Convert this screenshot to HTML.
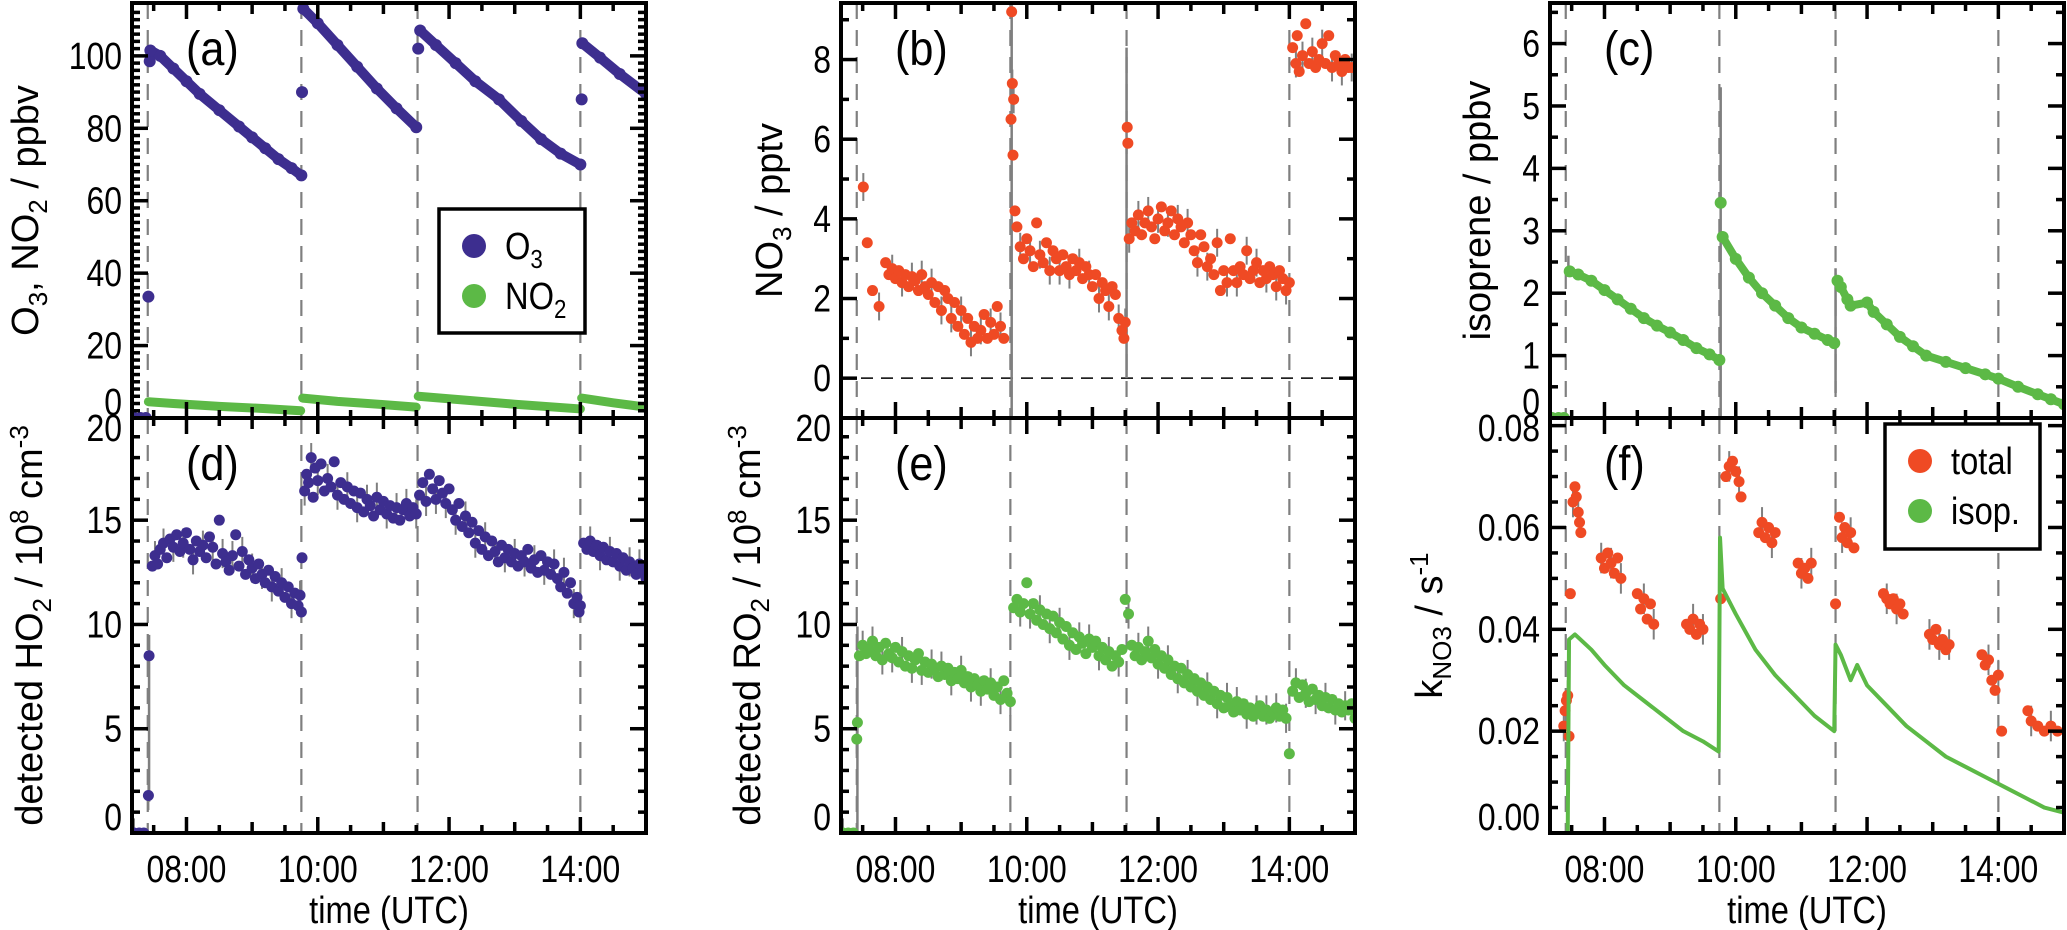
<!DOCTYPE html>
<html><head><meta charset="utf-8"><style>
html,body{margin:0;padding:0;background:#fff;}
svg{display:block;font-family:"Liberation Sans",sans-serif;}
</style></head><body>
<svg id="fig" width="2067" height="930" viewBox="0 0 2067 930" xmlns="http://www.w3.org/2000/svg"></svg>
<script>
const xTickLabels=["08:00","10:00","12:00","14:00"];
const xTickHours=[8,10,12,14];
const dashTimes=[7.41,9.75,11.52,14.0];
const o3Data=[[7.2,0],[7.3,0],[7.38,0],[7.42,33.5],[7.44,98.5],[7.45,101.5],[7.6,100],[7.8,96.5],[8.0,93],[8.2,89.5],[8.5,85],[8.8,80.5],[9.0,77.5],[9.2,74.5],[9.4,71.5],[9.6,69],[9.75,67],[9.76,90],[9.78,113],[10.0,109],[10.3,103],[10.6,97],[10.9,91],[11.2,85.5],[11.5,80.3],[11.53,102],[11.56,107],[11.8,103],[12.1,98],[12.4,93],[12.76,88],[13.1,82],[13.4,77],[13.7,73],[14.0,70],[14.02,88],[14.03,103.5],[14.3,99.5],[14.6,95],[15.0,89.5]];
const no2Data=[[7.2,0],[7.4,0],[7.42,4.5],[7.8,4],[8.5,3.2],[9.2,2.6],[9.74,2],[9.77,5.5],[10.3,4.6],[11.0,3.7],[11.5,3],[11.53,6],[12.2,5],[13.0,3.8],[14.0,2.5],[14.02,5.5],[14.5,4.2],[15.0,3]];
const no3Data=[[7.51,4.8],[7.57,3.4],[7.65,2.2],[7.75,1.8],[7.85,2.9],[7.9,2.6],[7.95,2.75],[8.0,2.5],[8.05,2.7],[8.1,2.4],[8.15,2.6],[8.2,2.3],[8.25,2.55],[8.3,2.45],[8.35,2.2],[8.4,2.6],[8.45,2.3],[8.5,2.1],[8.55,2.4],[8.6,1.9],[8.65,2.3],[8.7,1.7],[8.75,2.2],[8.8,2.0],[8.85,1.5],[8.9,1.9],[8.95,1.3],[9.0,1.7],[9.05,1.1],[9.1,1.5],[9.15,0.9],[9.2,1.3],[9.25,1.0],[9.3,1.2],[9.35,1.6],[9.4,1.0],[9.45,1.4],[9.5,1.1],[9.55,1.8],[9.6,1.3],[9.65,1.0],[9.77,9.2],[9.78,7.4],[9.76,6.5],[9.79,5.6],[9.8,7.0],[9.82,4.2],[9.85,3.8],[9.9,3.3],[9.95,3.0],[10.0,3.5],[10.05,3.2],[10.1,2.8],[10.15,3.9],[10.2,3.1],[10.25,2.9],[10.3,3.4],[10.35,2.7],[10.4,3.2],[10.45,3.0],[10.5,2.7],[10.55,3.1],[10.6,2.8],[10.65,2.6],[10.7,3.0],[10.75,2.7],[10.8,2.9],[10.85,2.5],[10.9,2.8],[10.95,2.6],[11.0,2.3],[11.05,2.6],[11.1,2.0],[11.15,2.4],[11.2,2.2],[11.25,1.8],[11.3,2.3],[11.35,2.1],[11.4,1.5],[11.45,1.2],[11.48,1.0],[11.5,1.4],[11.53,6.3],[11.54,5.9],[11.56,3.5],[11.6,3.9],[11.65,3.7],[11.7,4.1],[11.75,3.6],[11.8,3.9],[11.85,4.2],[11.9,3.8],[11.95,3.5],[12.0,4.0],[12.05,4.3],[12.1,3.7],[12.15,3.9],[12.2,4.2],[12.25,3.6],[12.3,4.0],[12.35,3.8],[12.4,3.4],[12.45,3.9],[12.5,3.6],[12.55,3.2],[12.6,2.9],[12.65,3.6],[12.7,3.3],[12.75,2.8],[12.8,3.0],[12.85,2.6],[12.9,3.4],[12.95,2.2],[13.0,2.7],[13.05,2.4],[13.1,3.5],[13.15,2.7],[13.2,2.4],[13.25,2.8],[13.3,2.6],[13.35,3.2],[13.4,2.5],[13.45,2.7],[13.5,2.9],[13.55,2.4],[13.6,2.7],[13.65,2.5],[13.7,2.8],[13.75,2.6],[13.8,2.3],[13.85,2.7],[13.9,2.5],[13.95,2.2],[14.0,2.4],[14.05,8.3],[14.1,7.9],[14.12,8.6],[14.15,7.7],[14.2,8.1],[14.25,8.9],[14.3,7.9],[14.35,8.2],[14.4,7.8],[14.45,8.0],[14.5,8.4],[14.55,7.9],[14.6,8.6],[14.65,7.8],[14.7,8.1],[14.75,7.9],[14.8,7.7],[14.85,8.0],[14.9,7.8],[14.95,7.8]];
const no3Spikes=[[9.77,-1,9.4],[11.52,0,8.3]];
const isoData=[[7.2,0],[7.3,0],[7.38,0],[7.47,2.35],[7.6,2.3],[7.8,2.2],[8.0,2.05],[8.2,1.9],[8.4,1.75],[8.6,1.6],[8.8,1.48],[9.0,1.37],[9.2,1.25],[9.4,1.12],[9.6,1.02],[9.75,0.93],[9.77,3.45],[9.8,2.9],[10.0,2.55],[10.2,2.25],[10.4,2.0],[10.6,1.8],[10.8,1.6],[11.0,1.45],[11.2,1.35],[11.4,1.25],[11.5,1.2],[11.55,2.2],[11.6,2.1],[11.7,1.9],[11.75,1.8],[12.0,1.85],[12.1,1.7],[12.3,1.5],[12.5,1.3],[12.7,1.15],[12.9,1.0],[13.2,0.9],[13.5,0.8],[13.8,0.7],[14.0,0.63],[14.3,0.5],[14.6,0.38],[14.8,0.3],[15.0,0.22]];
const isoSpikes=[[7.45,2.3,2.6],[9.77,0,5.3],[11.52,0.4,2.4]];
const ho2Data=[[7.2,0],[7.28,0],[7.35,0],[7.42,1.8],[7.43,8.5],[7.48,12.8],[7.52,13.3],[7.56,12.9],[7.6,13.6],[7.65,13.9],[7.7,13.2],[7.75,14.1],[7.8,13.7],[7.85,14.3],[7.9,13.5],[7.95,13.9],[8.0,14.4],[8.05,13.6],[8.1,13.1],[8.15,14.0],[8.2,13.5],[8.25,13.8],[8.3,13.2],[8.35,14.2],[8.4,13.7],[8.45,12.9],[8.5,15.0],[8.55,13.4],[8.6,13.0],[8.65,12.6],[8.7,13.3],[8.75,14.3],[8.8,12.8],[8.85,13.5],[8.9,12.4],[8.95,13.1],[9.0,12.7],[9.05,12.2],[9.1,12.9],[9.15,12.4],[9.2,12.0],[9.25,12.6],[9.3,11.8],[9.35,12.3],[9.4,11.6],[9.45,12.0],[9.5,11.3],[9.55,11.8],[9.6,11.0],[9.65,11.5],[9.7,10.9],[9.73,11.4],[9.75,10.6],[9.76,13.2],[9.8,16.4],[9.83,17.2],[9.86,16.8],[9.9,18.0],[9.93,16.1],[9.96,17.5],[10.0,16.9],[10.05,17.7],[10.1,16.4],[10.15,17.0],[10.2,16.6],[10.25,17.8],[10.3,16.2],[10.35,16.8],[10.4,16.0],[10.45,16.6],[10.5,15.8],[10.55,16.4],[10.6,15.6],[10.65,16.3],[10.7,15.4],[10.75,16.0],[10.8,15.7],[10.85,15.2],[10.9,16.1],[10.95,15.5],[11.0,15.9],[11.05,15.3],[11.1,15.7],[11.15,15.1],[11.2,15.6],[11.25,15.0],[11.3,15.5],[11.35,15.8],[11.4,15.2],[11.45,15.6],[11.5,15.3],[11.55,16.2],[11.6,16.8],[11.65,15.9],[11.7,17.2],[11.75,16.5],[11.8,16.0],[11.85,16.9],[11.9,16.3],[11.95,15.8],[12.0,16.5],[12.05,15.5],[12.1,15.0],[12.15,15.8],[12.2,14.7],[12.25,15.2],[12.3,14.4],[12.35,14.9],[12.4,13.9],[12.45,14.5],[12.5,13.6],[12.55,14.2],[12.6,13.3],[12.65,14.0],[12.7,13.5],[12.75,13.0],[12.8,13.8],[12.85,13.2],[12.9,13.6],[12.95,13.0],[13.0,13.4],[13.05,12.8],[13.1,13.3],[13.15,13.0],[13.2,13.6],[13.25,12.7],[13.3,13.1],[13.35,12.5],[13.4,13.3],[13.45,12.6],[13.5,13.0],[13.55,12.4],[13.6,12.9],[13.65,12.2],[13.7,11.8],[13.75,12.5],[13.8,11.5],[13.85,12.0],[13.9,11.0],[13.95,11.3],[13.98,10.6],[14.0,10.9],[14.05,13.9],[14.1,13.6],[14.15,14.0],[14.2,13.5],[14.25,13.8],[14.3,13.3],[14.35,13.7],[14.4,13.1],[14.45,13.5],[14.5,13.0],[14.55,13.4],[14.6,12.8],[14.65,13.2],[14.7,12.6],[14.75,13.0],[14.8,12.7],[14.85,12.4],[14.9,12.9],[14.95,12.5],[15.0,12.2]];
const ro2Data=[[7.2,0],[7.28,0],[7.36,0],[7.41,4.5],[7.42,5.3],[7.45,8.5],[7.5,9.0],[7.55,8.6],[7.6,8.8],[7.65,9.2],[7.7,8.5],[7.75,8.9],[7.8,8.3],[7.85,9.1],[7.9,8.6],[7.95,8.4],[8.0,8.9],[8.05,8.2],[8.1,8.7],[8.15,8.0],[8.2,8.5],[8.25,7.9],[8.3,8.3],[8.35,8.6],[8.4,7.8],[8.45,8.2],[8.5,7.7],[8.55,8.1],[8.6,7.9],[8.65,7.5],[8.7,8.0],[8.75,7.6],[8.8,7.9],[8.85,7.3],[8.9,7.7],[8.95,7.4],[9.0,7.8],[9.05,7.2],[9.1,7.5],[9.15,7.0],[9.2,7.4],[9.25,7.1],[9.3,6.8],[9.35,7.3],[9.4,6.9],[9.45,7.2],[9.5,6.6],[9.55,7.0],[9.6,6.4],[9.65,7.3],[9.7,6.7],[9.75,6.3],[9.8,10.8],[9.85,11.2],[9.9,10.6],[9.95,11.0],[10.0,12.0],[10.05,10.5],[10.1,11.0],[10.15,10.2],[10.2,10.7],[10.25,10.0],[10.3,10.5],[10.35,9.8],[10.4,10.4],[10.45,9.6],[10.5,10.1],[10.55,9.3],[10.6,9.9],[10.65,9.0],[10.7,9.6],[10.75,8.8],[10.8,9.4],[10.85,9.1],[10.9,8.6],[10.95,9.3],[11.0,8.9],[11.05,9.2],[11.1,8.5],[11.15,8.9],[11.2,8.3],[11.25,8.7],[11.3,8.0],[11.35,8.5],[11.4,8.2],[11.45,8.8],[11.5,11.2],[11.55,10.5],[11.6,9.0],[11.65,8.5],[11.7,8.9],[11.75,8.3],[11.8,8.7],[11.85,9.2],[11.9,8.4],[11.95,8.8],[12.0,8.1],[12.05,8.5],[12.1,7.9],[12.15,8.3],[12.2,7.6],[12.25,8.0],[12.3,7.4],[12.35,7.9],[12.4,7.2],[12.45,7.6],[12.5,7.0],[12.55,7.4],[12.6,6.8],[12.65,7.2],[12.7,6.6],[12.75,7.0],[12.8,6.4],[12.85,6.8],[12.9,6.2],[12.95,6.6],[13.0,6.0],[13.05,6.5],[13.1,6.1],[13.15,5.8],[13.2,6.3],[13.25,5.9],[13.3,6.2],[13.35,5.7],[13.4,6.0],[13.45,5.6],[13.5,5.9],[13.55,6.1],[13.6,5.6],[13.65,5.9],[13.7,5.5],[13.75,5.8],[13.8,6.0],[13.85,5.6],[13.9,5.9],[13.95,5.5],[14.0,3.8],[14.05,6.8],[14.1,7.2],[14.15,6.5],[14.2,7.1],[14.25,6.7],[14.3,6.3],[14.35,6.9],[14.4,6.4],[14.45,6.6],[14.5,6.1],[14.55,6.5],[14.6,6.0],[14.65,6.4],[14.7,5.9],[14.75,6.2],[14.8,5.8],[14.85,6.1],[14.9,5.9],[14.95,6.2],[15.0,5.5]];
const kTotalData=[[7.38,0.021],[7.4,0.024],[7.42,0.026],[7.44,0.027],[7.46,0.019],[7.48,0.047],[7.52,0.065],[7.55,0.068],[7.57,0.066],[7.6,0.063],[7.62,0.061],[7.64,0.059],[7.95,0.054],[8.0,0.052],[8.05,0.055],[8.1,0.053],[8.15,0.051],[8.2,0.054],[8.25,0.050],[8.5,0.047],[8.55,0.044],[8.6,0.046],[8.65,0.042],[8.7,0.045],[8.75,0.041],[9.25,0.041],[9.3,0.040],[9.35,0.042],[9.4,0.039],[9.45,0.041],[9.5,0.040],[9.77,0.046],[9.85,0.070],[9.9,0.072],[9.95,0.073],[10.0,0.071],[10.05,0.069],[10.08,0.066],[10.35,0.059],[10.4,0.061],[10.45,0.058],[10.5,0.060],[10.55,0.057],[10.6,0.059],[10.95,0.053],[11.0,0.051],[11.05,0.052],[11.1,0.050],[11.15,0.053],[11.52,0.045],[11.58,0.062],[11.62,0.058],[11.66,0.060],[11.7,0.057],[11.75,0.059],[11.8,0.056],[12.25,0.047],[12.3,0.046],[12.35,0.045],[12.4,0.046],[12.45,0.044],[12.5,0.045],[12.55,0.043],[12.95,0.039],[13.0,0.038],[13.05,0.040],[13.1,0.037],[13.15,0.038],[13.2,0.036],[13.25,0.037],[13.75,0.035],[13.8,0.033],[13.85,0.034],[13.9,0.030],[13.95,0.028],[14.0,0.031],[14.05,0.020],[14.45,0.024],[14.5,0.022],[14.6,0.021],[14.7,0.020],[14.8,0.021],[14.9,0.020]];
const kIsopData=[[7.2,0],[7.44,0],[7.46,0.038],[7.55,0.039],[7.8,0.036],[8.0,0.033],[8.3,0.029],[8.6,0.026],[8.9,0.023],[9.2,0.020],[9.5,0.018],[9.74,0.016],[9.76,0.058],[9.8,0.048],[10.0,0.043],[10.3,0.036],[10.6,0.031],[10.9,0.027],[11.2,0.023],[11.5,0.020],[11.52,0.037],[11.6,0.035],[11.75,0.030],[11.85,0.033],[12.0,0.029],[12.3,0.025],[12.6,0.021],[12.9,0.018],[13.2,0.015],[13.5,0.013],[13.8,0.011],[14.1,0.009],[14.4,0.007],[14.7,0.005],[15.0,0.004]];

const NS="http://www.w3.org/2000/svg";
const svg=document.getElementById('fig');
const BLUE="#3d2e8f",GREEN="#5cb946",RED="#ef4a24",GRAY="#7f7f7f";
const XMIN=7.17,XMAX=15.0;
function el(tag,parent){const e=document.createElementNS(NS,tag);parent.appendChild(e);return e;}

function panel(cfg){
  const g=el('g',svg);
  
  
  const {L,T,W,H,ymin,ymax}=cfg;
  cfg.sx=h=>L+(h-XMIN)/(XMAX-XMIN)*W;
  cfg.sy=v=>T+H-(v-ymin)/(ymax-ymin)*H;
  const clip=el('clipPath',g);clip.id='clip-'+cfg.name;
  const cr=el('rect',clip);cr.setAttribute('x',L);cr.setAttribute('y',T);cr.setAttribute('width',W);cr.setAttribute('height',H);
  const plot=el('g',g);plot.setAttribute('clip-path','url(#clip-'+cfg.name+')');
  
  
  cfg.plot=plot;cfg.g=g;
  dashTimes.forEach(t=>{
    const ln=el('line',plot);
    
    
    ln.setAttribute('x1',cfg.sx(t));ln.setAttribute('x2',cfg.sx(t));ln.setAttribute('y1',T);ln.setAttribute('y2',T+H);
    ln.setAttribute('stroke',GRAY);ln.setAttribute('stroke-width',2.2);ln.setAttribute('stroke-dasharray','16,11');
  });
  return cfg;
}
function finish(cfg){
  const {L,T,W,H,g}=cfg;
  const tk=el('g',g);
  
  
  const tick=(x1,y1,x2,y2)=>{const l=el('line',tk);l.setAttribute('x1',x1);l.setAttribute('y1',y1);l.setAttribute('x2',x2);l.setAttribute('y2',y2);l.setAttribute('stroke','#000');l.setAttribute('stroke-width',3.5);};
  for(let h=7.5;h<=XMAX+1e-6;h+=0.5){const x=cfg.sx(h);if(x<L+3||x>L+W-3)continue;const len=(Math.abs(h-Math.round(h))<1e-6)?(Math.round(h)%2===0?16:11):8;tick(x,T+H,x,T+H-len);tick(x,T,x,T+len);}
  for(let v=cfg.ymin;v<=cfg.ymax+1e-9;v+=cfg.minor){const k=Math.round(v/cfg.minor);const vv=k*cfg.minor;const y=cfg.sy(vv);if(y<T+3||y>T+H-3)continue;const maj=Math.abs(vv/cfg.major-Math.round(vv/cfg.major))<1e-6;const len=maj?16:8;tick(L,y,L+len,y);tick(L+W,y,L+W-len,y);}
  const fr=el('rect',g);
  
  
  fr.setAttribute('x',L);fr.setAttribute('y',T);fr.setAttribute('width',W);fr.setAttribute('height',H);fr.setAttribute('fill','none');fr.setAttribute('stroke','#000');fr.setAttribute('stroke-width',4);
  cfg.yLabels.forEach(v=>{
    let y=cfg.sy(v);y=Math.max(T+10,Math.min(T+H-16,y));
    const t=el('text',g);
    
    
    t.setAttribute('transform','translate('+(L-10)+','+(y+13)+') scale(0.84,1)');
    t.setAttribute('text-anchor','end');t.setAttribute('font-size',38);t.textContent=cfg.fmt(v);
  });
  if(cfg.bottom){
    xTickHours.forEach((h,i)=>{
      const t=el('text',g);
      
      
      t.setAttribute('transform','translate('+cfg.sx(h)+',882) scale(0.84,1)');
      t.setAttribute('text-anchor','middle');t.setAttribute('font-size',38);t.textContent=xTickLabels[i];
    });
    const xt=el('text',g);
    
    
    xt.setAttribute('transform','translate('+(L+W/2)+',923) scale(0.86,1)');
    xt.setAttribute('text-anchor','middle');xt.setAttribute('font-size',38);xt.textContent='time (UTC)';
  }
  const pl=el('text',g);
  
  
  pl.setAttribute('transform','translate('+(L+54)+','+(T+62)+') scale(0.9,1)');
  pl.setAttribute('font-size',48);pl.textContent=cfg.label;
  const yt=el('text',g);
  
  
  yt.setAttribute('transform','translate('+cfg.titleX+','+(T+H/2)+') rotate(-90)');
  yt.setAttribute('text-anchor','middle');yt.setAttribute('font-size',38);
  yt.innerHTML=cfg.title;
}
function scatter(cfg,data,color,r,name){
  const g=el('g',cfg.plot);
  
  
  data.forEach(d=>{const c=el('circle',g);c.setAttribute('cx',cfg.sx(d[0]));c.setAttribute('cy',cfg.sy(d[1]));c.setAttribute('r',r);c.setAttribute('fill',color);});
}
function errbars(cfg,data,err,name){
  const g=el('g',cfg.plot);
  
  
  data.forEach((d,i)=>{if(i%3)return;const l=el('line',g);const x=cfg.sx(d[0]);l.setAttribute('x1',x);l.setAttribute('x2',x);l.setAttribute('y1',cfg.sy(d[1]-err));l.setAttribute('y2',cfg.sy(d[1]+err));l.setAttribute('stroke',GRAY);l.setAttribute('stroke-width',2);});
}
function spikes(cfg,data,name){
  data.forEach(d=>{const l=el('line',cfg.plot);
    
    
    const x=cfg.sx(d[0]);l.setAttribute('x1',x);l.setAttribute('x2',x);l.setAttribute('y1',cfg.sy(d[1]));l.setAttribute('y2',cfg.sy(d[2]));l.setAttribute('stroke',GRAY);l.setAttribute('stroke-width',2.5);});
}
function line(cfg,data,color,w,name){
  const p=el('polyline',cfg.plot);
  
  
  p.setAttribute('points',data.map(d=>cfg.sx(d[0])+','+cfg.sy(d[1])).join(' '));p.setAttribute('fill','none');p.setAttribute('stroke',color);p.setAttribute('stroke-width',w);p.setAttribute('stroke-linejoin','round');p.setAttribute('stroke-linecap','round');
}
function segLine(cfg,data,color,w,name){
  let seg=[];const out=[];
  data.forEach((d,i)=>{
    if(i>0){const pv=data[i-1];
      if(d[1]>pv[1]&&dashTimes.some(t=>pv[0]<=t+0.01&&d[0]>=t-0.01)){out.push(seg);seg=[];}}
    seg.push(d);});
  out.push(seg);
  out.forEach(s=>{if(s.length<2)return;const p=el('polyline',cfg.plot);
    
    
    p.setAttribute('points',s.map(d=>cfg.sx(d[0])+','+cfg.sy(d[1])).join(' '));p.setAttribute('fill','none');p.setAttribute('stroke',color);p.setAttribute('stroke-width',w);p.setAttribute('stroke-linejoin','round');p.setAttribute('stroke-linecap','round');});
}
function legend(x,y,w,h,items,name){
  const g=el('g',svg);
  
  
  const r=el('rect',g);r.setAttribute('x',x);r.setAttribute('y',y);r.setAttribute('width',w);r.setAttribute('height',h);r.setAttribute('fill','#fff');r.setAttribute('stroke','#000');r.setAttribute('stroke-width',3.5);
  items.forEach((it,i)=>{
    const e=el('g',g);
    
    
    const cy=y+37+i*50;
    const c=el('circle',e);c.setAttribute('cx',x+35);c.setAttribute('cy',cy);c.setAttribute('r',12);c.setAttribute('fill',it[1]);
    const t=el('text',e);t.setAttribute('transform','translate('+(x+66)+','+(cy+13)+') scale(0.86,1)');t.setAttribute('font-size',38);t.innerHTML=it[0];
  });
}
const SUB='<tspan font-size="26" dy="9">', SUBE='</tspan><tspan dy="-9">', SUP='<tspan font-size="26" dy="-14">', SUPE='</tspan><tspan dy="14">';
const cols=[132,841,1550],W=514,T1=3,H1=415,T2=418,H2=415;

const a=panel({name:'panel-a-o3-no2',L:cols[0],T:T1,W,H:H1,ymin:0,ymax:114.6,major:20,minor:2,yLabels:[0,20,40,60,80,100],fmt:v=>String(v),label:'(a)',titleX:38,title:'O'+SUB+'3'+SUBE+', NO'+SUB+'2'+SUBE+' / ppbv</tspan>'});
segLine(a,no2Data,GREEN,9,'no2-series');
segLine(a,o3Data.filter(d=>!(d[0]===7.42||d[0]===7.44||d[0]===9.76||d[0]===11.53||d[0]===14.02)),BLUE,10,'o3-series');
scatter(a,o3Data,BLUE,6,'o3-points');
finish(a);
legend(439,209,146,124,[['O'+SUB+'3</tspan>',BLUE],['NO'+SUB+'2</tspan>',GREEN]],'legend-a');

const b=panel({name:'panel-b-no3',L:cols[1],T:T1,W,H:H1,ymin:-1.0,ymax:9.42,major:2,minor:1,yLabels:[0,2,4,6,8],fmt:v=>String(v),label:'(b)',titleX:782,title:'NO'+SUB+'3'+SUBE+' / pptv</tspan>'});
const zl=el('line',b.plot);


zl.setAttribute('x1',b.L);zl.setAttribute('x2',b.L+W);zl.setAttribute('y1',b.sy(0));zl.setAttribute('y2',b.sy(0));zl.setAttribute('stroke','#000');zl.setAttribute('stroke-width',1.5);zl.setAttribute('stroke-dasharray','12,8');
spikes(b,no3Spikes,'no3-spike-errorbar');
errbars(b,no3Data,0.35,'no3-errorbars');
scatter(b,no3Data,RED,5.5,'no3-points');
finish(b);

const c=panel({name:'panel-c-isoprene',L:cols[2],T:T1,W,H:H1,ymin:0,ymax:6.65,major:1,minor:0.5,yLabels:[0,1,2,3,4,5,6],fmt:v=>String(v),label:'(c)',titleX:1490,title:'isoprene / ppbv'});
spikes(c,isoSpikes,'isoprene-spike-errorbar');
scatter(c,isoData,GREEN,6,'isoprene-points');
segLine(c,isoData.filter(d=>d[0]!==9.77),GREEN,8,'isoprene-series');
finish(c);

const d=panel({name:'panel-d-ho2',L:cols[0],T:T2,W,H:H2,ymin:0,ymax:19.9,major:5,minor:1,yLabels:[0,5,10,15,20],fmt:v=>String(v),label:'(d)',titleX:42,bottom:true,title:'detected HO'+SUB+'2'+SUBE+' / 10'+SUP+'8'+SUPE+' cm'+SUP+'-3</tspan>'});
spikes(d,[[7.43,1.5,9.5]],'ho2-spike-errorbar');
errbars(d,ho2Data,0.7,'ho2-errorbars');
scatter(d,ho2Data,BLUE,5.5,'ho2-points');
finish(d);

const e=panel({name:'panel-e-ro2',L:cols[1],T:T2,W,H:H2,ymin:0,ymax:19.9,major:5,minor:1,yLabels:[0,5,10,15,20],fmt:v=>String(v),label:'(e)',titleX:760,bottom:true,title:'detected RO'+SUB+'2'+SUBE+' / 10'+SUP+'8'+SUPE+' cm'+SUP+'-3</tspan>'});
spikes(e,[[7.42,0,9.9]],'ro2-spike-errorbar');
errbars(e,ro2Data,0.7,'ro2-errorbars');
scatter(e,ro2Data,GREEN,5.5,'ro2-points');
finish(e);

const f=panel({name:'panel-f-kno3',L:cols[2],T:T2,W,H:H2,ymin:0,ymax:0.0815,major:0.02,minor:0.005,yLabels:[0,0.02,0.04,0.06,0.08],fmt:v=>v.toFixed(2),label:'(f)',titleX:1442,bottom:true,title:'k'+SUB+'NO3'+SUBE+' / s'+SUP+'-1</tspan>'});
errbars(f,kTotalData,0.003,'ktotal-errorbars');
scatter(f,kTotalData,RED,5.5,'ktotal-points');
line(f,kIsopData,GREEN,4,'kisop-series');
finish(f);
legend(1885,424,155,125,[['total',RED],['isop.',GREEN]],'legend-f');
</script>
</body></html>
